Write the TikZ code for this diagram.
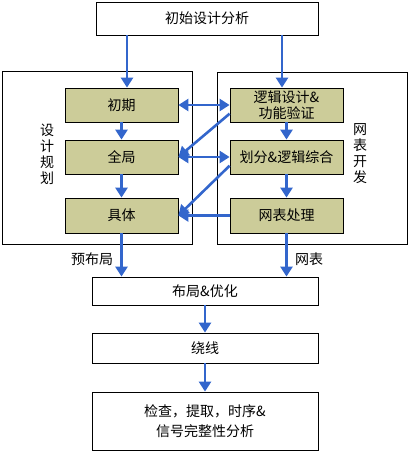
\documentclass[tikz,border=0pt]{standalone}
\usepackage{fontspec}
\setmainfont{Noto Sans CJK SC}
\usetikzlibrary{arrows.meta,calc}
\definecolor{arrblue}{RGB}{51,102,204}
\definecolor{olive}{RGB}{204,204,153}
\tikzset{
  box/.style={draw=black,line width=0.8pt,fill=white,minimum width=226pt,inner sep=0pt,font=\fontsize{14}{20}\selectfont,align=center},
  inner/.style={draw=black,line width=0.8pt,fill=olive,minimum width=113pt,minimum height=34pt,inner sep=0pt,font=\fontsize{14}{16}\selectfont,align=center},
  group/.style={draw=black,line width=0.8pt,fill=white},
  arr/.style={draw=arrblue,line width=2.6pt,-{Triangle[length=10pt,width=12pt]}},
  darr/.style={draw=arrblue,line width=2.6pt,{Triangle[length=10pt,width=12pt]}-{Triangle[length=10pt,width=12pt]}},
  lbl/.style={font=\fontsize{14}{16}\selectfont,inner sep=0pt},
  vlbl/.style={font=\fontsize{14}{16}\selectfont,inner sep=0pt,align=center}
}
\begin{document}
\begin{tikzpicture}[x=1pt,y=-1pt]
\useasboundingbox (0,0) rectangle (409,452);
% group frames
\draw[group] (2,71) rectangle (192,244);
\draw[group] (217,72) rectangle (407,244);
% nodes
\node[box,minimum width=222pt,minimum height=33pt] (top) at (207,18.5) {初始设计分析};
\node[inner] (L1) at (121.5,105) {初期};
\node[inner] (L2) at (121.5,157) {全局};
\node[inner,minimum height=35pt] (L3) at (121.5,215.5) {具体};
\node[inner] (R1) at (286.5,105) {逻辑设计\&\\功能验证};
\node[inner] (R2) at (286.5,157) {划分\&逻辑综合};
\node[inner,minimum height=35pt] (R3) at (286.5,215.5) {网表处理};
\node[vlbl] (gl) at (47,154) {设\\计\\规\\划};
\node[vlbl] (gr) at (360,154) {网\\表\\开\\发};
\node[box,minimum height=28pt] (B1) at (205,291) {布局\&优化};
\node[box,minimum height=30pt] (B2) at (205,348) {绕线};
\node[box,minimum height=58pt] (B3) at (205,421) {检查，提取，时序\&\\信号完整性分析};
\node[lbl] (p1) at (92,259) {预布局};
\node[lbl] (p2) at (309,259) {网表};
% helper coordinates
\coordinate (ta) at (127,0);
\coordinate (tb) at (282,0);
\coordinate (da) at ($(R1.west)!0.5!(R1.south west)$);
\coordinate (db) at ($(R2.west)!0.5!(R2.south west)$);
% arrows
\draw[arr] (top.south -| ta) -- (L1.north -| ta);
\draw[arr] (top.south -| tb) -- (R1.north -| tb);
\draw[arr] (L1) -- (L2);
\draw[arr] (L2) -- (L3);
\draw[arr] (R1.south) -- (R2.north);
\draw[arr] (R2.south) -- (R3.north);
\draw[darr] (L1.east) -- (R1.west);
\draw[darr] (L2.east) -- (R2.west);
\draw[arr] (da) -- (L2.east);
\draw[arr] (db) -- (L3.east);
\draw[arr] (R3.west) -- (L3.east);
\draw[arr] (L3.south) -- (B1.north -| L3.south);
\draw[arr] (R3.south) -- (B1.north -| R3.south);
\draw[arr] (B1) -- (B2);
\draw[arr] (B2) -- (B3);
\end{tikzpicture}
\end{document}
